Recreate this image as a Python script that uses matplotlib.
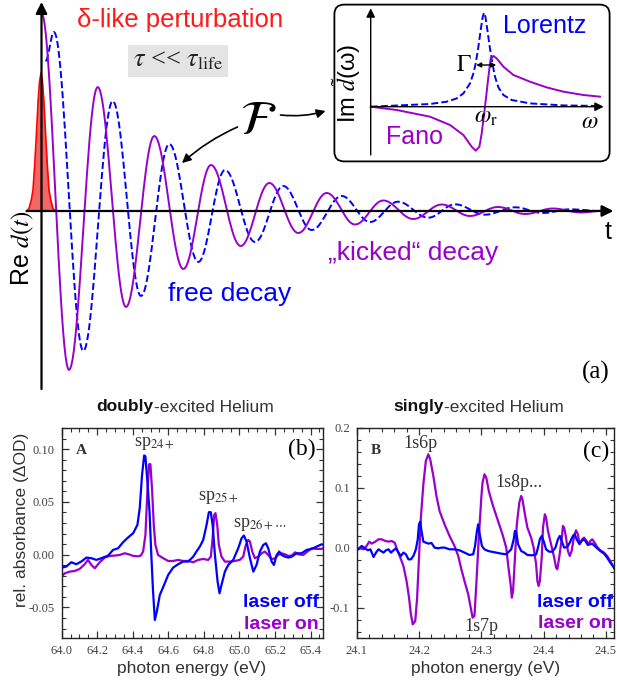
import matplotlib
matplotlib.use('Agg')
import matplotlib.pyplot as plt
import numpy as np
from matplotlib.patches import FancyBboxPatch
from matplotlib.ticker import MultipleLocator, FormatStrFormatter

plt.rcParams['font.family'] = ['Liberation Sans', 'DejaVu Sans']
plt.rcParams['mathtext.fontset'] = 'stix'
plt.rcParams['axes.unicode_minus'] = False

PURPLE = '#9900cc'
BLUE = '#0000ff'
GREY = '#333333'

# ---- (a) schematic: extrema of Re d(t) (t, amplitude) ----
kick_t = [0, 27.5, 56.2, 84.5, 112.8, 141.8, 169.5, 199.2, 227.8, 256.8, 285.2,
          313.5, 341.8, 371.8, 400.2, 428.5, 456.5, 483.5, 511.5, 539.5, 563.5]
kick_amp = [198, -159, 124, -96, 75, -58, 46, -35, 28, -22, 18,
            -13.5, 10.5, -8, 6.5, -5, 4, -3, 2.5, -1.5, 0.5]

free_t = [4, 12.5, 41.8, 71.2, 99.5, 127.8, 156.8, 183.5, 213.5, 241.8, 270.2,
          300.2, 328.5, 356.5, 386.8, 413.5, 443.5, 473.5, 501.5, 528.5, 558.5]
free_amp = [150, 179, -140, 110, -85, 67, -51, 41, -31, 25, -19,
            15, -11, 9.3, -6.7, 6.7, -3.7, 3.7, -2, 1.7, 0]

pulse_t = [-14.5, -12.5, -10.2, -8.5, -7, -5.5, -4.5, -3.3, -2, -0.5,
           1, 2.3, 3.5, 4.5, 6, 7.5, 9.2, 11.5, 13.5]
pulse_amp = [0.5, 2.5, 11, 21, 43, 69, 88, 111, 129, 138,
             129, 111, 88, 69, 43, 21, 11, 2.5, 0.5]

# inset: Im d(omega), Lorentz and Fano profiles
lor_w = [0, 59.3, 76, 86, 92.7, 99.3, 102.7, 105, 107.7, 110, 112, 113.3, 114.7,
         116.7, 119, 121.7, 124.3, 127.7, 132.7, 141, 159.3, 192.7, 229.3]
lor_h = [0, 2.7, 5, 8.3, 13.3, 23.3, 33.3, 43.3, 60, 76.7, 90, 94, 90,
         76.7, 60, 43.3, 30, 19.3, 11.7, 6.7, 3.3, 1.3, 0.7]
fano_w = [0, 26, 59.3, 79.3, 92.7, 101, 105, 108.7, 111, 114.3, 117.7, 120,
          122.7, 126, 132.7, 142.7, 159.3, 176, 192.7, 212.7, 229.3]
fano_h = [0, -3.3, -10, -18.3, -28.3, -40, -44, -40, -26.7, 0, 30, 48.3,
          50.7, 48.3, 40, 31.7, 25, 19.3, 15, 11.7, 10]

# ---- (b) doubly-excited helium ----
b_off_e = [64.000, 64.026, 64.054, 64.082, 64.110, 64.139, 64.167, 64.195, 64.223, 64.261,
           64.289, 64.317, 64.345, 64.373, 64.402, 64.426, 64.439, 64.452, 64.464, 64.471,
           64.482, 64.494, 64.505, 64.514, 64.524, 64.535, 64.552, 64.576, 64.599, 64.627,
           64.655, 64.683, 64.711, 64.740, 64.758, 64.777, 64.796, 64.815, 64.828, 64.839,
           64.849, 64.862, 64.877, 64.888, 64.899, 64.918, 64.937, 64.965, 64.993, 65.012,
           65.025, 65.040, 65.059, 65.078, 65.096, 65.115, 65.134, 65.149, 65.162, 65.181,
           65.194, 65.209, 65.224, 65.237, 65.256, 65.275, 65.294, 65.322, 65.350, 65.378,
           65.406, 65.434, 65.463, 65.481]
b_off = [-0.0123, -0.0113, -0.0072, -0.0091, -0.0066, -0.0028, -0.0034, -0.0050, -0.0034, -0.0009,
         0.0045, 0.0060, 0.0117, 0.0162, 0.0203, 0.0282, 0.0440, 0.0756, 0.0940, 0.0930,
         0.0693, 0.0408, -0.0034, -0.0351, -0.0619, -0.0540, -0.0382, -0.0287, -0.0192, -0.0123,
         -0.0091, -0.0066, -0.0066, -0.0019, 0.0029, 0.0076, 0.0139, 0.0282, 0.0402, 0.0402,
         0.0282, -0.0003, -0.0256, -0.0366, -0.0287, -0.0161, -0.0098, -0.0050, 0.0060, 0.0155,
         0.0181, 0.0124, -0.0034, -0.0161, -0.0098, 0.0029, 0.0092, 0.0108, 0.0060, -0.0066,
         -0.0098, -0.0003, 0.0029, -0.0003, -0.0019, -0.0028, -0.0019, 0.0013, 0.0013, 0.0045,
         0.0054, 0.0076, 0.0098, 0.0086]

b_on_e = [64.000, 64.017, 64.045, 64.073, 64.101, 64.129, 64.148, 64.167, 64.186, 64.214,
          64.242, 64.270, 64.298, 64.326, 64.355, 64.377, 64.402, 64.430, 64.445, 64.458,
          64.471, 64.482, 64.492, 64.499, 64.509, 64.518, 64.527, 64.542, 64.571, 64.599,
          64.627, 64.655, 64.683, 64.711, 64.740, 64.768, 64.796, 64.824, 64.839, 64.849,
          64.858, 64.865, 64.875, 64.884, 64.899, 64.918, 64.946, 64.974, 65.002, 65.021,
          65.036, 65.049, 65.059, 65.072, 65.087, 65.106, 65.125, 65.143, 65.162, 65.181,
          65.200, 65.218, 65.237, 65.256, 65.275, 65.294, 65.313, 65.331, 65.359, 65.387,
          65.406, 65.434, 65.463, 65.481]
b_on = [-0.0208, -0.0177, -0.0161, -0.0155, -0.0136, -0.0091, -0.0050, -0.0098, -0.0129, -0.0072,
        -0.0028, -0.0012, -0.0009, -0.0003, 0.0013, 0.0003, -0.0012, -0.0016, -0.0009, 0.0029,
        0.0187, 0.0598, 0.0857, 0.0857, 0.0598, 0.0282, 0.0092, -0.0003, -0.0034, -0.0060,
        -0.0060, -0.0050, -0.0060, -0.0060, -0.0072, -0.0050, -0.0041, -0.0050, -0.0019, 0.0155,
        0.0377, 0.0393, 0.0282, 0.0092, -0.0019, -0.0066, -0.0066, -0.0060, -0.0050, -0.0019,
        0.0092, 0.0139, 0.0124, 0.0029, -0.0034, -0.0019, 0.0013, 0.0029, -0.0003, -0.0044,
        -0.0034, -0.0003, 0.0013, 0.0003, -0.0012, -0.0009, 0.0022, 0.0003, -0.0003, 0.0035,
        0.0060, 0.0054, 0.0054, 0.0076]

# ---- (c) singly-excited helium ----
c_off_e = [24.100, 24.104, 24.108, 24.113, 24.118, 24.122, 24.127, 24.131, 24.135, 24.139,
           24.143, 24.147, 24.151, 24.155, 24.159, 24.163, 24.167, 24.171, 24.175, 24.179,
           24.183, 24.187, 24.191, 24.195, 24.198, 24.200, 24.202, 24.204, 24.207, 24.211,
           24.215, 24.220, 24.225, 24.231, 24.236, 24.241, 24.249, 24.257, 24.265, 24.273,
           24.281, 24.287, 24.290, 24.293, 24.295, 24.297, 24.301, 24.305, 24.311, 24.316,
           24.324, 24.332, 24.340, 24.348, 24.352, 24.354, 24.356, 24.359, 24.364, 24.369,
           24.374, 24.382, 24.388, 24.391, 24.394, 24.397, 24.400, 24.404, 24.409, 24.414,
           24.419, 24.423, 24.426, 24.429, 24.433, 24.438, 24.442, 24.447, 24.450, 24.453,
           24.457, 24.460, 24.464, 24.467, 24.471, 24.474, 24.478, 24.482, 24.486, 24.491,
           24.497, 24.502, 24.507, 24.513, 24.516]
c_off = [-0.0022, -0.0005, 0.0034, -0.0005, -0.0038, -0.0022, -0.0150, -0.0077, -0.0022, -0.0050,
         -0.0077, -0.0038, -0.0022, -0.0077, -0.0038, -0.0005, -0.0077, -0.0133, -0.0077, -0.0105,
         -0.0189, -0.0189, -0.0133, -0.0022, 0.0145, 0.0395, 0.0439, 0.0284, 0.0106, 0.0089,
         0.0073, 0.0084, 0.0006, -0.0005, 0.0006, 0.0006, -0.0022, -0.0022, -0.0038, -0.0077,
         -0.0116, -0.0105, 0.0034, 0.0284, 0.0395, 0.0256, 0.0034, -0.0022, -0.0050, -0.0061,
         -0.0077, -0.0094, -0.0105, -0.0022, 0.0145, 0.0284, 0.0273, 0.0062, -0.0050, -0.0077,
         -0.0116, -0.0122, -0.0105, 0.0006, 0.0145, 0.0201, 0.0117, -0.0022, -0.0061, -0.0061,
         0.0006, 0.0145, 0.0201, 0.0117, 0.0006, 0.0017, 0.0089, 0.0201, 0.0228, 0.0145,
         0.0073, 0.0106, 0.0145, 0.0117, 0.0050, 0.0062, 0.0073, 0.0034, -0.0005, -0.0050,
         -0.0094, -0.0161, -0.0244, -0.0327, -0.0383]

c_on_e = [24.100, 24.106, 24.111, 24.116, 24.120, 24.124, 24.130, 24.135, 24.140, 24.146,
          24.151, 24.156, 24.161, 24.164, 24.170, 24.175, 24.180, 24.184, 24.187, 24.190,
          24.194, 24.197, 24.200, 24.203, 24.207, 24.211, 24.215, 24.218, 24.223, 24.228,
          24.233, 24.241, 24.249, 24.257, 24.263, 24.268, 24.273, 24.279, 24.283, 24.286,
          24.289, 24.292, 24.296, 24.300, 24.302, 24.305, 24.308, 24.312, 24.318, 24.326,
          24.334, 24.340, 24.343, 24.347, 24.349, 24.351, 24.354, 24.357, 24.361, 24.364,
          24.366, 24.370, 24.374, 24.380, 24.384, 24.388, 24.390, 24.392, 24.394, 24.397,
          24.399, 24.402, 24.404, 24.407, 24.412, 24.417, 24.420, 24.422, 24.425, 24.429,
          24.431, 24.433, 24.436, 24.439, 24.442, 24.445, 24.449, 24.452, 24.455, 24.458,
          24.462, 24.465, 24.469, 24.473, 24.475, 24.478, 24.482, 24.486, 24.491, 24.497,
          24.502, 24.507, 24.513, 24.516]
c_on = [-0.0038, -0.0005, -0.0022, 0.0034, 0.0106, 0.0073, 0.0106, 0.0145, 0.0145, 0.0117,
        0.0106, 0.0117, 0.0089, -0.0005, -0.0161, -0.0300, -0.0550, -0.0827, -0.1105, -0.1272,
        -0.1216, -0.0827, -0.0161, 0.0506, 0.1062, 0.1451, 0.1562, 0.1478, 0.1201, 0.0867,
        0.0617, 0.0395, 0.0201, 0.0034, -0.0133, -0.0355, -0.0550, -0.0772, -0.0994, -0.1161,
        -0.1133, -0.0605, 0.0173, 0.0839, 0.1089, 0.1228, 0.1173, 0.0951, 0.0728, 0.0478,
        0.0228, 0.0006, -0.0272, -0.0605, -0.0827, -0.0716, -0.0161, 0.0395, 0.0756, 0.0867,
        0.0812, 0.0562, 0.0339, 0.0173, 0.0006, -0.0272, -0.0550, -0.0633, -0.0550, -0.0161,
        0.0339, 0.0562, 0.0506, 0.0284, 0.0062, -0.0161, -0.0327, -0.0355, -0.0161, 0.0145,
        0.0367, 0.0339, 0.0173, -0.0050, -0.0133, -0.0050, 0.0201, 0.0295, 0.0228, 0.0062,
        0.0145, 0.0173, 0.0117, 0.0062, 0.0117, 0.0145, 0.0089, 0.0017, -0.0038, -0.0077,
        -0.0133, -0.0216, -0.0327, -0.0411]


def smooth_arcs(tt, yy, n=24):
    '''join neighbouring extrema with half cosine arcs so the wave looks smooth'''
    xs, ys = [], []
    for i in range(len(tt) - 1):
        s = np.linspace(0, 1, n, endpoint=False)
        xs.append(tt[i] + s * (tt[i + 1] - tt[i]))
        ys.append((yy[i] + yy[i + 1]) / 2 + (yy[i] - yy[i + 1]) / 2 * np.cos(np.pi * s))
    xs.append([tt[-1]])
    ys.append([yy[-1]])
    return np.concatenate(xs), np.concatenate(ys)


fig = plt.figure(figsize=(6.17, 6.83), dpi=100)
W, H = 617.0, 683.0

'''(a) time domain sketch'''
ax = fig.add_axes([0, 1 - 395 / H, 1, 395 / H])
ax.set_xlim(-41.5, 575.5)
ax.set_ylim(-184, 211)
ax.axis('off')

ax.fill_between(pulse_t, pulse_amp, 0, color='#f26666', lw=0, zorder=1)
ax.plot(pulse_t, pulse_amp, color='#ff0000', lw=1.2, zorder=1)

x, y = smooth_arcs(free_t, free_amp)
ax.plot(x, y, color=BLUE, lw=1.4, dashes=(3.6, 1.6), zorder=2)
x, y = smooth_arcs(kick_t, kick_amp)
ax.plot(x, y, color=PURPLE, lw=1.4, zorder=3)

arrow_kw = dict(arrowstyle='-|>', color='k', lw=1.6, mutation_scale=17, shrinkA=0, shrinkB=0)
ax.annotate('', xy=(0, 209), xytext=(0, -178), arrowprops=arrow_kw, zorder=4)
ax.annotate('', xy=(572, 0), xytext=(-15, 0), arrowprops=arrow_kw, zorder=4)

ax.text(138.5, 191, 'δ-like perturbation', color='#ff1a1a', fontsize=18.5, ha='center', va='center')
ax.text(136.5, 150, r'$\tau$ << $\tau_{\rm life}$', fontsize=19, ha='center', va='center',
        family='Liberation Serif', color='#222222',
        bbox=dict(facecolor='#e4e4e4', edgecolor='none', pad=3.5))
ax.text(216.5, 90, r'$\mathcal{F}$', fontsize=35, ha='center', va='center')
ax.annotate('', xy=(140.5, 48), xytext=(196, 84),
            arrowprops=dict(arrowstyle='-|>', color='k', lw=1.2, mutation_scale=13,
                            connectionstyle='arc3,rad=0.08', shrinkA=0, shrinkB=0))
ax.annotate('', xy=(284, 100), xytext=(239, 96),
            arrowprops=dict(arrowstyle='-|>', color='k', lw=1.2, mutation_scale=13,
                            connectionstyle='arc3,rad=0.1', shrinkA=0, shrinkB=0))
ax.text(371.5, -42, '„kicked“ decay', color=PURPLE, fontsize=19, ha='center', va='center')
ax.text(188.5, -83, 'free decay', color=BLUE, fontsize=19, ha='center', va='center')
ax.text(566.5, -21, 't', fontsize=18, ha='center', va='center')
ax.text(-18.5, -37, r'Re $\it{d(t)}$', fontsize=18, ha='center', va='center', rotation=90)
ax.text(554.5, -161, '(a)', fontsize=18, ha='center', va='center', family='Liberation Serif')

'''inset: spectral line shapes'''
ins = fig.add_axes([333 / W, 1 - 163 / H, 278 / W, 160 / H])
ins.set_xlim(-37.7, 240.3)
ins.set_ylim(-56.3, 103.7)
ins.axis('off')
ins.add_patch(FancyBboxPatch((0.005, 0.01), 0.99, 0.98, boxstyle='round,pad=0,rounding_size=0.035',
                             mutation_aspect=278 / 160., transform=ins.transAxes,
                             facecolor='white', edgecolor='k', lw=1.3, clip_on=False, zorder=0))
ins.plot(lor_w, lor_h, color=BLUE, lw=1.4, dashes=(3.6, 1.6), zorder=2)
ins.plot(fano_w, fano_h, color=PURPLE, lw=1.4, zorder=3)
ins_kw = dict(arrowstyle='-|>', color='k', lw=1.0, mutation_scale=13, shrinkA=0, shrinkB=0)
ins.annotate('', xy=(0, 98.4), xytext=(0, -48.3), arrowprops=ins_kw)
ins.annotate('', xy=(233, 0), xytext=(0, 0), arrowprops=ins_kw)
ins.annotate('', xy=(105.5, 41.7), xytext=(125.5, 41.7),
             arrowprops=dict(arrowstyle='<|-|>', color='k', lw=1.0, mutation_scale=7,
                             shrinkA=0, shrinkB=0), zorder=4)
ins.text(174.3, 80.7, 'Lorentz', color=BLUE, fontsize=18, ha='center', va='center')
ins.text(43.5, -30.3, 'Fano', color=PURPLE, fontsize=18, ha='center', va='center')
ins.text(93.3, 41.5, r'$\Gamma$', fontsize=17, ha='center', va='center')
ins.text(115.3, -10.3, r'$\omega_{\rm r}$', fontsize=17, ha='center', va='center')
ins.text(219.3, -15.5, r'$\omega$', fontsize=17, ha='center', va='center')
ins.text(-24, 23, r'Im $\tilde{d}$(ω)', fontsize=17, ha='center', va='center', rotation=90)

'''(b) and (c) measured spectra'''
def style(a, xmaj, xmin, ymaj, ymin, yfmt):
    a.xaxis.set_major_locator(MultipleLocator(xmaj))
    a.xaxis.set_minor_locator(MultipleLocator(xmin))
    a.yaxis.set_major_locator(MultipleLocator(ymaj))
    a.yaxis.set_minor_locator(MultipleLocator(ymin))
    a.yaxis.set_major_formatter(FormatStrFormatter(yfmt))
    a.xaxis.set_major_formatter(FormatStrFormatter('%.1f'))
    a.tick_params(which='both', direction='in', top=True, right=True, colors='#333333',
                  labelsize=9, pad=5)
    a.tick_params(which='major', length=5, width=0.9)
    a.tick_params(which='minor', length=3, width=0.8)
    for lab in a.get_xticklabels() + a.get_yticklabels():
        lab.set_family('Liberation Serif')
        lab.set_color('#444444')
    for sp in a.spines.values():
        sp.set_color('#222222')
        sp.set_linewidth(1.0)


axb = fig.add_axes([61.7 / W, 1 - 638 / H, (323 - 61.7) / W, 210 / H])
axb.plot(b_off_e, b_off, color=BLUE, lw=1.6, zorder=3)
axb.plot(b_on_e, b_on, color=PURPLE, lw=1.6, zorder=2)
axb.set_xlim(64.0, 65.47)
axb.set_ylim(-0.079, 0.120)
style(axb, 0.2, 0.05, 0.05, 0.01, '%.2f')
axb.text(64.109, 0.0984, 'A', fontsize=11, fontweight='bold', family='Liberation Serif',
         ha='center', va='center', color='#333333')
axb.text(65.348, 0.0993, '(b)', fontsize=17, family='Liberation Serif', ha='center', va='center')
axb.text(64.52, 0.1025, r'sp$_{\rm 24+}$', fontsize=13, family='Liberation Serif', ha='center',
         va='baseline', color='#333333')
axb.text(64.883, 0.0519, r'sp$_{\rm 25+}$', fontsize=13, family='Liberation Serif', ha='center',
         va='baseline', color='#333333')
axb.text(65.112, 0.0266, r'sp$_{\rm 26+\cdots}$', fontsize=13, family='Liberation Serif',
         ha='center', va='baseline', color='#333333')
axb.text(65.445, -0.045, 'laser off', color=BLUE, fontsize=14, fontweight='bold', ha='right',
         va='center')
axb.text(65.445, -0.066, 'laser on', color=PURPLE, fontsize=14, fontweight='bold', ha='right',
         va='center')

axc = fig.add_axes([356.7 / W, 1 - 638 / H, (614 - 356.7) / W, 210 / H])
axc.plot(c_off_e, c_off, color=BLUE, lw=1.6, zorder=3)
axc.plot(c_on_e, c_on, color=PURPLE, lw=1.6, zorder=2)
axc.set_xlim(24.1, 24.513)
axc.set_ylim(-0.15, 0.2)
style(axc, 0.1, 0.02, 0.1, 0.02, '%.1f')
axc.text(24.130, 0.163, 'B', fontsize=11, fontweight='bold', family='Liberation Serif',
         ha='center', va='center', color='#333333')
axc.text(24.485, 0.161, '(c)', fontsize=17, family='Liberation Serif', ha='center', va='center')
axc.text(24.202, 0.166, '1s6p', fontsize=13, family='Liberation Serif', ha='center',
         va='baseline', color='#333333')
axc.text(24.300, -0.138, '1s7p', fontsize=13, family='Liberation Serif', ha='center',
         va='baseline', color='#333333')
axc.text(24.361, 0.1017, '1s8p...', fontsize=13, family='Liberation Serif', ha='center',
         va='baseline', color='#333333')
axc.text(24.511, -0.0905, 'laser off', color=BLUE, fontsize=14, fontweight='bold', ha='right',
         va='center')
axc.text(24.511, -0.1255, 'laser on', color=PURPLE, fontsize=14, fontweight='bold', ha='right',
         va='center')

# axis labels and two-part titles
fig.text(22 / W, 1 - 520 / H, 'rel. absorbance (ΔOD)', rotation=90, fontsize=12.5,
         ha='center', va='center', color=GREY)
fig.text(192 / W, 1 - 668 / H, 'photon energy (eV)', fontsize=12.5, ha='center', va='center',
         color=GREY)
fig.text(486 / W, 1 - 668 / H, 'photon energy (eV)', fontsize=12.5, ha='center', va='center',
         color=GREY)

fig.canvas.draw()
rend = fig.canvas.get_renderer()
for x0, bold, rest in [(96.7, 'doubly', '-excited Helium'), (393, 'singly', '-excited Helium')]:
    t1 = fig.text(x0 / W, 1 - 407 / H, bold, fontsize=12.5, fontweight='bold', ha='left',
                  va='center', color='#111111')
    bb = t1.get_window_extent(renderer=rend)
    fig.text(bb.x1 / fig.bbox.width, 1 - 407 / H, rest, fontsize=12.5, ha='left', va='center',
             color=GREY)

fig.savefig('out.png', dpi=100)
